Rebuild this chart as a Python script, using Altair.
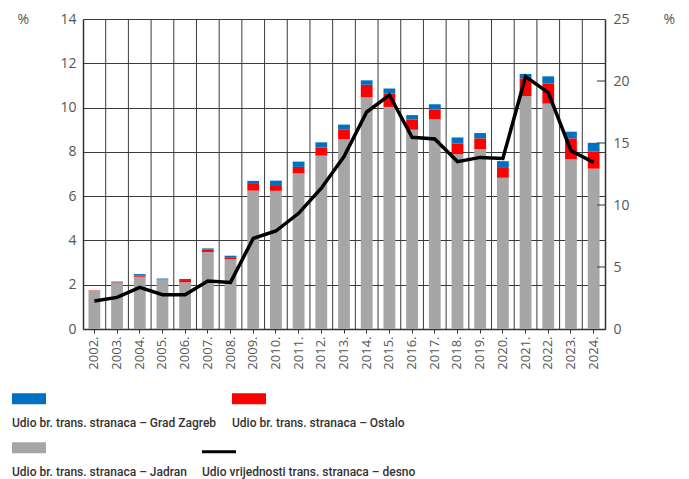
import altair as alt
import pandas as pd

# ---------------- data ----------------
years = ["2002.", "2003.", "2004.", "2005.", "2006.", "2007.", "2008.", "2009.",
         "2010.", "2011.", "2012.", "2013.", "2014.", "2015.", "2016.", "2017.",
         "2018.", "2019.", "2020.", "2021.", "2022.", "2023.", "2024."]

jadran = [1.72, 2.09, 2.36, 2.24, 2.11, 3.48, 3.15, 6.25, 6.24, 7.03, 7.83, 8.57,
          10.46, 10.03, 9.00, 9.47, 7.90, 8.13, 6.83, 10.52, 10.18, 7.66, 7.24]
ostalo = [0.02, 0.02, 0.06, 0.02, 0.10, 0.10, 0.09, 0.30, 0.26, 0.29, 0.36, 0.45,
          0.57, 0.60, 0.45, 0.45, 0.48, 0.48, 0.48, 0.80, 0.90, 0.95, 0.78]
zagreb = [0.00, 0.03, 0.06, 0.02, 0.05, 0.06, 0.07, 0.14, 0.20, 0.24, 0.24, 0.21,
          0.20, 0.23, 0.21, 0.23, 0.27, 0.24, 0.27, 0.20, 0.33, 0.30, 0.39]
vrijednost = [2.26, 2.55, 3.36, 2.77, 2.77, 3.87, 3.76, 7.31, 7.90, 9.33, 11.35, 13.90,
              17.50, 18.87, 15.46, 15.32, 13.50, 13.84, 13.76, 20.35, 19.06, 14.38, 13.44]

S_ZG = "Udio br. trans. stranaca – Grad Zagreb"
S_OS = "Udio br. trans. stranaca – Ostalo"
S_JA = "Udio br. trans. stranaca – Jadran"
S_LN = "Udio vrijednosti trans. stranaca – desno"

left_ticks = [0, 2, 4, 6, 8, 10, 12, 14]
right_ticks = [0, 5, 10, 15, 20, 25]

C_GRAY, C_RED, C_BLUE, C_BLACK = "#A6A6A6", "#FF0000", "#0070C0", "#000000"

# ---------------- tables ----------------
rows = []
for i, y in enumerate(years):
    rows.append({"year": y, "series": S_JA, "value": jadran[i], "ord": 0})
    rows.append({"year": y, "series": S_OS, "value": ostalo[i], "ord": 1})
    rows.append({"year": y, "series": S_ZG, "value": zagreb[i], "ord": 2})
bars_df = pd.DataFrame(rows)
line_df = pd.DataFrame({"year": years, "val": vrijednost})
grid_df = pd.DataFrame({"idx": list(range(1, len(years)))})
rtick_df = pd.DataFrame({"val": right_ticks[1:-1]})
leg_df = pd.DataFrame({"name": [S_ZG, S_OS, S_JA], "row": [0, 0, 1], "col": [0, 1, 0]})
leg_line_df = pd.DataFrame({"name": [S_LN], "row": [1], "col": [1]})

W, H = 522, 310
AX_FONT = "Open Sans"
LEG_FONT = "Roboto"
LEG_SIZE = 12

color_scale = alt.Scale(domain=[S_JA, S_OS, S_ZG, S_LN],
                        range=[C_GRAY, C_RED, C_BLUE, C_BLACK])

# vertical grid lines at band boundaries
grid = alt.Chart(grid_df).mark_rule(color="#3a3a3a", strokeWidth=1).encode(
    x=alt.X("idx:Q", scale=alt.Scale(domain=[0, len(years)], nice=False, zero=False), axis=None)
)

bars = alt.Chart(bars_df).mark_bar().encode(
    x=alt.X("year:N", sort=years,
            scale=alt.Scale(paddingInner=0.48, paddingOuter=0.24),
            axis=alt.Axis(title=None, labelAngle=270, labelFont=AX_FONT, labelFontSize=13,
                          labelColor="#555555", tickSize=4, tickColor="#333333",
                          labelPadding=3, domainColor="#333333", domainWidth=1.5,
                          grid=False)),
    y=alt.Y("value:Q", stack="zero",
            scale=alt.Scale(domain=[0, 14], nice=False),
            axis=alt.Axis(orient="left", values=left_ticks, grid=True, gridColor="#3a3a3a",
                          gridWidth=1, tickSize=0, labelPadding=7, labelFont=AX_FONT,
                          labelFontSize=14, labelColor="#555555", domainColor="#333333",
                          domainWidth=1.5, title="%", titleAngle=0, titleX=-66, titleY=0,
                          titleAlign="left", titleBaseline="middle", titleFont=AX_FONT,
                          titleFontSize=14, titleFontWeight="normal", titleColor="#555555")),
    color=alt.Color("series:N", scale=color_scale, legend=None),
    order=alt.Order("ord:Q"),
)

line = alt.Chart(line_df).mark_line(color=C_BLACK, strokeWidth=3.5).encode(
    x=alt.X("year:N", sort=years, axis=None),
    y=alt.Y("val:Q", scale=alt.Scale(domain=[0, 25], nice=False),
            axis=alt.Axis(orient="right", values=right_ticks, grid=False, tickSize=0,
                          labelPadding=8, labelFont=AX_FONT, labelFontSize=14,
                          labelColor="#555555", domainColor="#333333", domainWidth=1.5,
                          title="%", titleAngle=0, titleX=58, titleY=0, titleAlign="left",
                          titleBaseline="middle", titleFont=AX_FONT, titleFontSize=14,
                          titleFontWeight="normal", titleColor="#555555")),
)

# inward tick marks of the right axis
rticks = alt.Chart(rtick_df).mark_rule(color="#333333", strokeWidth=1).encode(
    y=alt.Y("val:Q", scale=alt.Scale(domain=[0, 25], nice=False), axis=None),
    x=alt.value(W - 8),
    x2=alt.value(W),
)

# custom legend (swatch above label)
LX = alt.Scale(domain=[0, 1], range=[-71, 149], nice=False, zero=False)
LY = alt.Scale(domain=[0, 1], range=[379.7, 428.8], nice=False, zero=False)

leg_sw = alt.Chart(leg_df).mark_tick(orient="horizontal", size=34, thickness=11,
                                     opacity=1, xOffset=17).encode(
    x=alt.X("col:Q", scale=LX, axis=None),
    y=alt.Y("row:Q", scale=LY, axis=None),
    color=alt.Color("name:N", scale=color_scale, legend=None),
)
leg_ln = alt.Chart(leg_line_df).mark_tick(orient="horizontal", size=34, thickness=3,
                                          opacity=1, xOffset=-13, yOffset=4).encode(
    x=alt.X("col:Q", scale=LX, axis=None),
    y=alt.Y("row:Q", scale=LY, axis=None),
    color=alt.Color("name:N", scale=color_scale, legend=None),
)
leg_tx = alt.Chart(leg_df).mark_text(align="left", baseline="middle", font=LEG_FONT,
                                     fontSize=LEG_SIZE, fontWeight=500, color="#333333",
                                     yOffset=24.3).encode(
    x=alt.X("col:Q", scale=LX, axis=None),
    y=alt.Y("row:Q", scale=LY, axis=None),
    text="name:N",
)
leg_tx2 = alt.Chart(leg_line_df).mark_text(align="left", baseline="middle", font=LEG_FONT,
                                           fontSize=LEG_SIZE, fontWeight=500, color="#333333",
                                           yOffset=24.3, xOffset=-30).encode(
    x=alt.X("col:Q", scale=LX, axis=None),
    y=alt.Y("row:Q", scale=LY, axis=None),
    text="name:N",
)

chart = alt.layer(grid, bars, line, rticks, leg_sw, leg_ln, leg_tx, leg_tx2).resolve_scale(
    x="independent", y="independent"
).properties(
    width=W, height=H,
    padding={"left": 4, "top": 4, "right": 5, "bottom": 4},
).configure_view(stroke=None).configure(background="white")

chart.save("out.html", embed_options={"renderer": "svg", "actions": False})
